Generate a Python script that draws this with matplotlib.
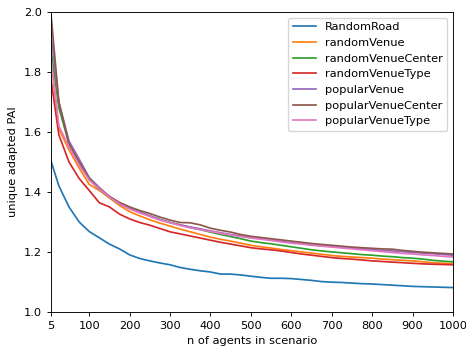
import numpy as np
import matplotlib
matplotlib.use("Agg")
import matplotlib.pyplot as plt

# skala gambar asli ~0.82 dari default matplotlib
SC = 0.82
plt.rcParams.update({
    "font.size": 10 * SC,
    "lines.linewidth": 1.5 * SC,
    "axes.linewidth": 0.8 * SC,
    "xtick.major.size": 3.5 * SC,
    "ytick.major.size": 3.5 * SC,
    "xtick.major.width": 0.8 * SC,
    "ytick.major.width": 0.8 * SC,
    "legend.fontsize": 10 * SC,
})

# x: jumlah agen per skenario
n_agents = [5] + list(range(25, 1001, 25))

random_road = [1.505, 1.42, 1.35, 1.30, 1.268, 1.247, 1.226, 1.21, 1.19, 1.178,
               1.17, 1.163, 1.157, 1.148, 1.142, 1.137, 1.133, 1.126, 1.126, 1.123,
               1.119, 1.115, 1.112, 1.112, 1.111, 1.108, 1.105, 1.101, 1.099, 1.098,
               1.096, 1.094, 1.093, 1.091, 1.089, 1.087, 1.085, 1.084, 1.083, 1.082, 1.081]

random_venue = [1.85, 1.61, 1.54, 1.48, 1.425, 1.405, 1.38, 1.355, 1.334, 1.32,
                1.307, 1.296, 1.286, 1.276, 1.267, 1.258, 1.249, 1.242, 1.236, 1.229,
                1.222, 1.217, 1.213, 1.208, 1.204, 1.2, 1.196, 1.192, 1.188, 1.185,
                1.183, 1.181, 1.179, 1.176, 1.174, 1.172, 1.17, 1.167, 1.164, 1.162, 1.161]

random_venue_center = [1.88, 1.68, 1.56, 1.50, 1.44, 1.41, 1.383, 1.36, 1.345, 1.332,
                       1.32, 1.308, 1.298, 1.29, 1.282, 1.274, 1.266, 1.258, 1.251, 1.244,
                       1.236, 1.231, 1.227, 1.222, 1.217, 1.212, 1.207, 1.203, 1.2, 1.197,
                       1.194, 1.191, 1.189, 1.186, 1.184, 1.181, 1.179, 1.176, 1.172, 1.169, 1.167]

random_venue_type = [1.78, 1.59, 1.50, 1.445, 1.405, 1.364, 1.35, 1.326, 1.31, 1.298,
                     1.289, 1.278, 1.267, 1.26, 1.253, 1.246, 1.239, 1.232, 1.226, 1.22,
                     1.214, 1.21, 1.207, 1.203, 1.198, 1.193, 1.189, 1.185, 1.181, 1.178,
                     1.176, 1.173, 1.17, 1.168, 1.166, 1.164, 1.162, 1.16, 1.159, 1.158, 1.157]

popular_venue = [1.93, 1.70, 1.57, 1.51, 1.448, 1.415, 1.385, 1.362, 1.345, 1.332,
                 1.32, 1.308, 1.298, 1.29, 1.283, 1.277, 1.27, 1.264, 1.258, 1.253,
                 1.248, 1.244, 1.24, 1.235, 1.231, 1.228, 1.224, 1.221, 1.219, 1.216,
                 1.213, 1.211, 1.208, 1.205, 1.203, 1.201, 1.198, 1.196, 1.194, 1.191, 1.189]

popular_venue_center = [2.0, 1.70, 1.56, 1.50, 1.445, 1.41, 1.385, 1.365, 1.35, 1.338,
                        1.328, 1.316, 1.306, 1.298, 1.297, 1.29, 1.279, 1.272, 1.266, 1.258,
                        1.252, 1.248, 1.244, 1.24, 1.236, 1.232, 1.228, 1.225, 1.222, 1.219,
                        1.216, 1.214, 1.212, 1.21, 1.209, 1.205, 1.202, 1.199, 1.197, 1.195, 1.193]

popular_venue_type = [1.85, 1.62, 1.55, 1.49, 1.44, 1.41, 1.383, 1.36, 1.343, 1.33,
                      1.318, 1.306, 1.297, 1.288, 1.28, 1.274, 1.268, 1.262, 1.256, 1.251,
                      1.246, 1.242, 1.238, 1.233, 1.229, 1.226, 1.222, 1.219, 1.216, 1.213,
                      1.21, 1.207, 1.204, 1.201, 1.198, 1.195, 1.193, 1.19, 1.188, 1.185, 1.183]

series = [
    ("RandomRoad", random_road),
    ("randomVenue", random_venue),
    ("randomVenueCenter", random_venue_center),
    ("randomVenueType", random_venue_type),
    ("popularVenue", popular_venue),
    ("popularVenueCenter", popular_venue_center),
    ("popularVenueType", popular_venue_type),
]

fig = plt.figure(figsize=(4.66, 3.52), dpi=100)
ax = fig.add_axes([0.109, 0.114, 0.863, 0.852])

for name, vals in series:
    ax.plot(n_agents, vals, label=name)

ax.set_xlim(5, 1000)
ax.set_ylim(1.0, 2.0)
ax.set_xticks([5, 100, 200, 300, 400, 500, 600, 700, 800, 900, 1000])
ax.set_yticks([1.0, 1.2, 1.4, 1.6, 1.8, 2.0])
ax.set_xlabel("n of agents in scenario")
ax.set_ylabel("unique adapted PAI")
ax.legend(loc="upper right")

fig.savefig("out.png", dpi=100)
